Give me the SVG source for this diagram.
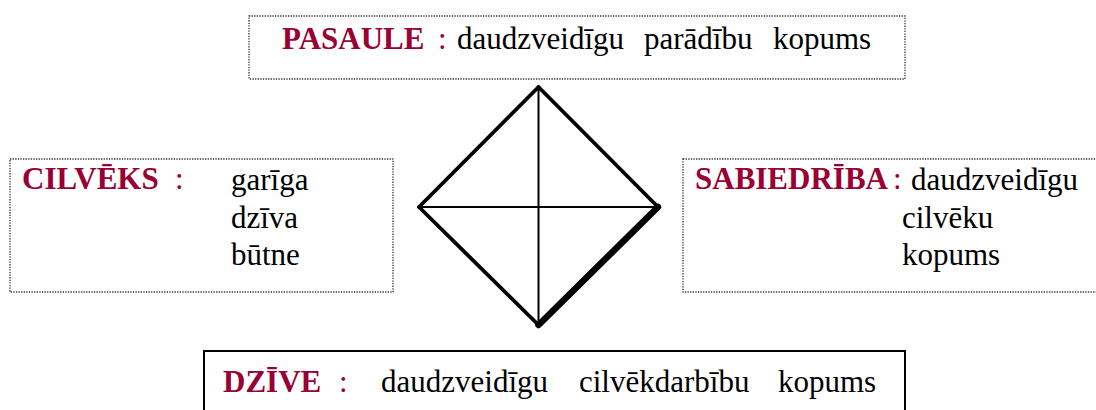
<svg xmlns="http://www.w3.org/2000/svg" width="1096" height="410" viewBox="0 0 1096 410">
<style>
.box{fill:#fff;stroke:#333;stroke-width:1.3;stroke-dasharray:1.3 1.3}
.solid{fill:#fff;stroke:#000;stroke-width:2}
text{font-size:31px;fill:#000}
.h{font-weight:bold;fill:#990033}
.c{fill:#990033}
.edge{stroke:#000;fill:none;stroke-linecap:round}
</style>
<rect width="1096" height="410" fill="#fff"/>
<g id="pasaule" font-family="'Liberation Serif', 'Times New Roman', serif">
<rect class="box" x="249" y="16" width="656" height="63"/>
<text class="h" x="282" y="49">PASAULE</text>
<text class="c" x="438" y="49">:</text>
<text x="457" y="49">daudzveidīgu</text>
<text x="644" y="49">parādību</text>
<text x="773" y="49">kopums</text>
</g>
<g id="cilveks" font-family="'Liberation Serif', 'Times New Roman', serif">
<rect class="box" x="10" y="159" width="383" height="133"/>
<text class="h" x="22" y="189">CILVĒKS</text>
<text class="c" x="175" y="189">:</text>
<text x="231" y="190">garīga</text>
<text x="231" y="228">dzīva</text>
<text x="231" y="265">būtne</text>
</g>
<g id="sabiedriba" font-family="'Liberation Serif', 'Times New Roman', serif">
<rect class="box" x="683" y="159" width="420" height="133"/>
<text class="h" x="695" y="189">SABIEDRĪBA</text>
<text class="c" x="893" y="189">:</text>
<text x="911" y="190">daudzveidīgu</text>
<text x="902" y="228">cilvēku</text>
<text x="902" y="265">kopums</text>
</g>
<g id="dzive" font-family="'Liberation Serif', 'Times New Roman', serif">
<rect class="solid" x="204" y="351" width="701" height="70"/>
<text class="h" x="223" y="392">DZĪVE</text>
<text class="c" x="339" y="392">:</text>
<text x="381" y="392">daudzveidīgu</text>
<text x="579" y="392">cilvēkdarbību</text>
<text x="778" y="392">kopums</text>
</g>
<g id="connectors">
<line class="edge" x1="538.5" y1="87" x2="538.5" y2="325" stroke-width="2"/>
<line class="edge" x1="419" y1="207" x2="658" y2="207" stroke-width="2"/>
<line class="edge" x1="538.5" y1="87" x2="419" y2="207" stroke-width="3.8"/>
<line class="edge" x1="538.5" y1="87" x2="658" y2="207" stroke-width="3.8"/>
<line class="edge" x1="419" y1="207" x2="538.5" y2="325" stroke-width="3.8"/>
<line class="edge" x1="658" y1="207" x2="538.5" y2="325" stroke-width="6.5"/>
</g>
</svg>
